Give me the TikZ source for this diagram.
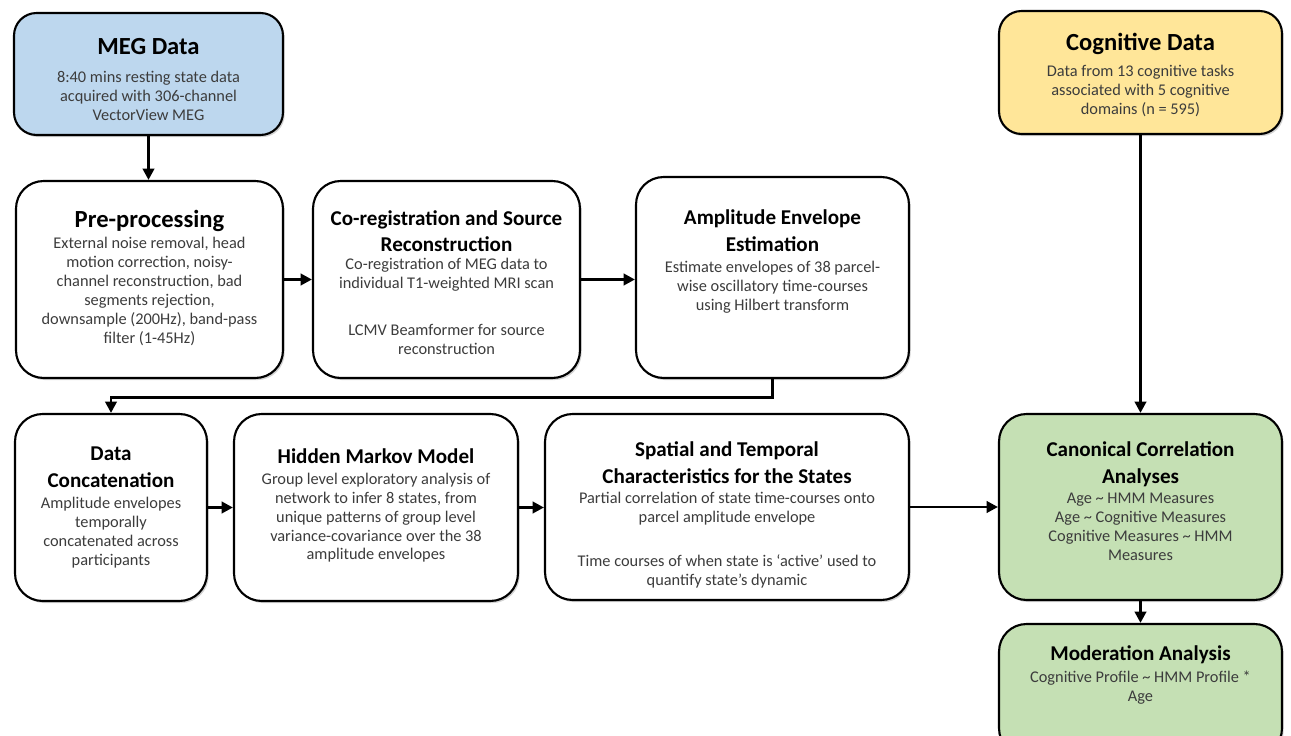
\documentclass[tikz,border=0pt]{standalone}
\usepackage{fontspec}
\setmainfont{Carlito}
\usetikzlibrary{arrows.meta,positioning,shadows}
\definecolor{megblue}{RGB}{189,215,238}
\definecolor{coggold}{RGB}{255,230,153}
\definecolor{ccagreen}{RGB}{197,224,180}
\definecolor{descgray}{RGB}{60,60,60}

\begin{document}
\begin{tikzpicture}[x=0.02cm,y=-0.02cm,
  stage/.style={draw=black, line width=1.2pt, rounded corners=0.55cm, fill=white,
    drop shadow={shadow xshift=1pt, shadow yshift=-1.2pt, opacity=0.35}, inner sep=0pt},
  bighead/.style={font=\fontsize{14}{17}\selectfont\bfseries, align=center, inner sep=0pt, text depth=3pt},
  head/.style={font=\fontsize{12}{15.3}\selectfont\bfseries, align=center, inner sep=0pt, text depth=3pt},
  desc/.style={font=\fontsize{9.3}{10.8}\selectfont, text=descgray, align=center, inner sep=0pt},
  flow/.style={line width=1.7pt, -{Triangle[length=6.5pt,width=6.5pt]}}]
\useasboundingbox (0,0) rectangle (1291,736);
\clip (0,0) rectangle (1291,736);

% Inputs
\node[stage, fill=megblue, rounded corners=0.45cm, minimum width=5.38cm, minimum height=2.44cm] (meg) at (148.5,74) {};
\node[bighead, anchor=north] (megt) at ([yshift=-15pt]meg.north) {MEG Data};
\node[desc, below=6pt of megt] (megd) {8:40 mins resting state data\\acquired with 306-channel\\VectorView MEG};

\node[stage, fill=coggold, rounded corners=0.45cm, minimum width=5.66cm, minimum height=2.46cm] (cog) at (1140.5,72.5) {};
\node[bighead, anchor=north] (cogt) at ([yshift=-13pt]cog.north) {Cognitive Data};
\node[desc, below=5pt of cogt] (cogd) {Data from 13 cognitive tasks\\associated with 5 cognitive\\domains (n = 595)};

% First row
\node[stage, minimum width=5.34cm, minimum height=3.94cm] (pre) at (149.5,279.5) {};
\node[bighead, anchor=north] (pret) at ([yshift=-17pt]pre.north) {Pre-processing};
\node[desc, below=2pt of pret] (pred) {External noise removal, head\\motion correction, noisy-\\channel reconstruction, bad\\segments rejection,\\downsample (200Hz), band-pass\\filter (1-45Hz)};

\node[stage, minimum width=5.34cm, minimum height=3.94cm] (coreg) at (446.5,279.5) {};
\node[head, anchor=north] (coregt) at ([yshift=-17pt]coreg.north) {Co-registration and Source\\Reconstruction};
\node[desc, below=0pt of coregt] (coregd) {Co-registration of MEG data to\\individual T1-weighted MRI scan\\[16pt]LCMV Beamformer for source\\reconstruction};

\node[stage, minimum width=5.46cm, minimum height=4.02cm] (amp) at (772.5,277.5) {};
\node[head, anchor=north] (ampt) at ([yshift=-19pt]amp.north) {Amplitude Envelope\\Estimation};
\node[desc, below=2pt of ampt] (ampd) {Estimate envelopes of 38 parcel-\\wise oscillatory time-courses\\using Hilbert transform};

% Second row
\node[stage, minimum width=3.84cm, minimum height=3.74cm] (conc) at (111,507.5) {};
\node[head, anchor=north] (conct) at ([yshift=-19pt]conc.north) {Data\\Concatenation};
\node[desc, below=2pt of conct] (concd) {Amplitude envelopes\\temporally\\concatenated across\\participants};

\node[stage, minimum width=5.68cm, minimum height=3.74cm] (hmm) at (376,507.5) {};
\node[head, anchor=north] (hmmt) at ([yshift=-20pt]hmm.north) {Hidden Markov Model};
\node[desc, below=2pt of hmmt] (hmmd) {Group level exploratory analysis of\\network to infer 8 states, from\\unique patterns of group level\\variance-covariance over the 38\\amplitude envelopes};

\node[stage, minimum width=7.28cm, minimum height=3.72cm] (spat) at (727,507) {};
\node[head, anchor=north] (spatt) at ([yshift=-16pt]spat.north) {Spatial and Temporal\\Characteristics for the States};
\node[desc, below=2pt of spatt] (spatd) {Partial correlation of state time-courses onto\\parcel amplitude envelope\\[14pt]Time courses of when state is ‘active’ used to\\quantify state’s dynamic};

% Analyses
\node[stage, fill=ccagreen, minimum width=5.66cm, minimum height=3.72cm] (cca) at (1140.5,507) {};
\node[head, anchor=north] (ccat) at ([yshift=-16pt]cca.north) {Canonical Correlation\\Analyses};
\node[desc, below=2pt of ccat] (ccad) {Age \textasciitilde{} HMM Measures\\Age \textasciitilde{} Cognitive Measures\\Cognitive Measures \textasciitilde{} HMM\\Measures};

\node[stage, fill=ccagreen, minimum width=5.66cm, minimum height=2.64cm] (mod) at (1140.5,690) {};
\node[head, anchor=north] (modt) at ([yshift=-13pt]mod.north) {Moderation Analysis};
\node[desc, below=2pt of modt] (modd) {Cognitive Profile \textasciitilde{} HMM Profile *\\Age};

% Connections
\draw[flow] (meg.south) -- (meg.south |- pre.north);
\draw[flow] (pre.east) -- (coreg.west);
\draw[flow] (coreg.east) -- (coreg.east -| amp.west);
\draw[flow] (amp.south) -- ++(0,18) -| (conc.north);
\draw[flow] (conc.east) -- (hmm.west);
\draw[flow] (hmm.east) -- (hmm.east -| spat.west);
\draw[flow] (spat.east) -- (spat.east -| cca.west);
\draw[flow] (cog.south) -- (cog.south |- cca.north);
\draw[flow] (cca.south) -- (mod.north);
\end{tikzpicture}
\end{document}
